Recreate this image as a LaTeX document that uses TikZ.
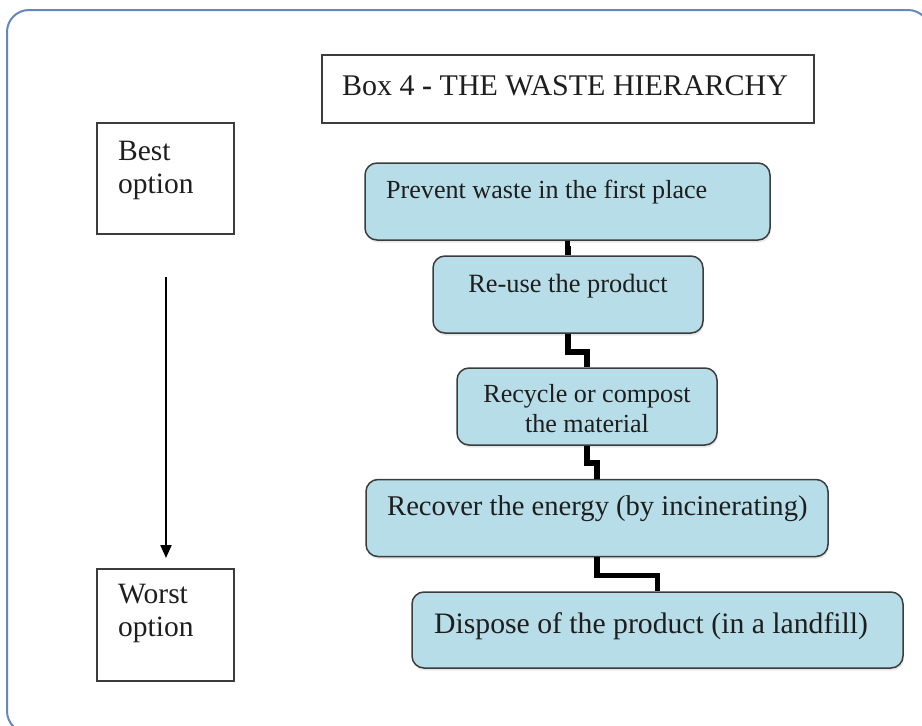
\documentclass[tikz,border=0pt]{standalone}
\usepackage{fontspec}
\setmainfont{Liberation Serif}
\usetikzlibrary{arrows.meta,shadows}
\definecolor{boxblue}{RGB}{183,221,232}
\definecolor{boxedge}{RGB}{60,60,60}
\definecolor{frameblue}{RGB}{100,136,186}
\definecolor{txt}{RGB}{30,30,30}
\tikzset{
  bluebox/.style={draw=boxedge, line width=1.5pt, fill=boxblue, rounded corners=12pt,
    drop shadow={opacity=0.18, shadow xshift=1pt, shadow yshift=-2.5pt}, inner sep=0pt},
  graybox/.style={draw=boxedge, line width=1.5pt, fill=white, inner sep=0pt},
  boxtext/.style={inner sep=0pt, text=txt},
  sidetext/.style={inner sep=0pt, text=txt, align=left, font=\fontsize{29.5}{33.5}\selectfont},
  conn/.style={draw=black, line width=5.5pt, line join=miter},
  downarrow/.style={draw=black, line width=2pt, -{Triangle[length=13pt,width=11pt]}},
  frame/.style={draw=frameblue, line width=2pt, rounded corners=22pt}
}
\begin{document}
\begin{tikzpicture}[x=1pt,y=-1pt]
\useasboundingbox (0,0) rectangle (922,726);
\begin{scope}
  \clip (0,0) rectangle (922,726);
  \draw[frame] (7,10) rectangle (930,733);
\end{scope}
% title and side boxes
\node[graybox, minimum width=492pt, minimum height=68pt] (title) at (568,89) {};
\node[boxtext, anchor=base west, font=\fontsize{30}{34}\selectfont] (ttitle) at (342,95) {Box 4 \textbf{-} THE WASTE HIERARCHY};
\node[graybox, minimum width=137pt, minimum height=111pt] (best) at (165.5,178.5) {};
\node[sidetext, anchor=north west] (tbest) at (118,140.5) {Best\\option};
\node[graybox, minimum width=137pt, minimum height=112pt] (worst) at (165.5,625) {};
\node[sidetext, anchor=north west] (tworst) at (118,583.5) {Worst\\option};
\coordinate (atop) at (166,277);
\coordinate (abot) at (166,558);
\draw[downarrow] (atop) -- (abot);
% hierarchy boxes
\node[bluebox, minimum width=405pt, minimum height=77pt] (b1) at (567.5,201.5) {};
\node[bluebox, minimum width=270pt, minimum height=77pt] (b2) at (568,294.5) {};
\node[bluebox, minimum width=260pt, minimum height=77pt] (b3) at (587,406.5) {};
\node[bluebox, minimum width=462pt, minimum height=77pt] (b4) at (597,518) {};
\node[bluebox, minimum width=491pt, minimum height=76pt] (b5) at (657.5,630) {};
\node[boxtext, anchor=base west, font=\fontsize{26.1}{30}\selectfont] (t1) at (386,198) {Prevent waste in the first place};
\node[boxtext, anchor=base, font=\fontsize{26.4}{30}\selectfont] (t2) at (568,292) {Re-use the product};
\node[boxtext, anchor=north, align=center, font=\fontsize{26.1}{30}\selectfont] (t3) at (587,384) {Recycle or compost\\the material};
\node[boxtext, anchor=base west, font=\fontsize{28.6}{32}\selectfont] (t4) at (387,515) {Recover the energy (by incinerating)};
\node[boxtext, anchor=base west, font=\fontsize{29.7}{33}\selectfont] (t5) at (434,633) {Dispose of the product (in a landfill)};
% connectors
\draw[conn] (b1.south) -- ++(0,8) -| (b2.north);
\draw[conn] (b2.south) -- ++(0,18) -| (b3.north);
\draw[conn] (b3.south) -- ++(0,17) -| (b4.north);
\draw[conn] (b4.south) -- ++(0,18) -| (b5.north);
\end{tikzpicture}
\end{document}
